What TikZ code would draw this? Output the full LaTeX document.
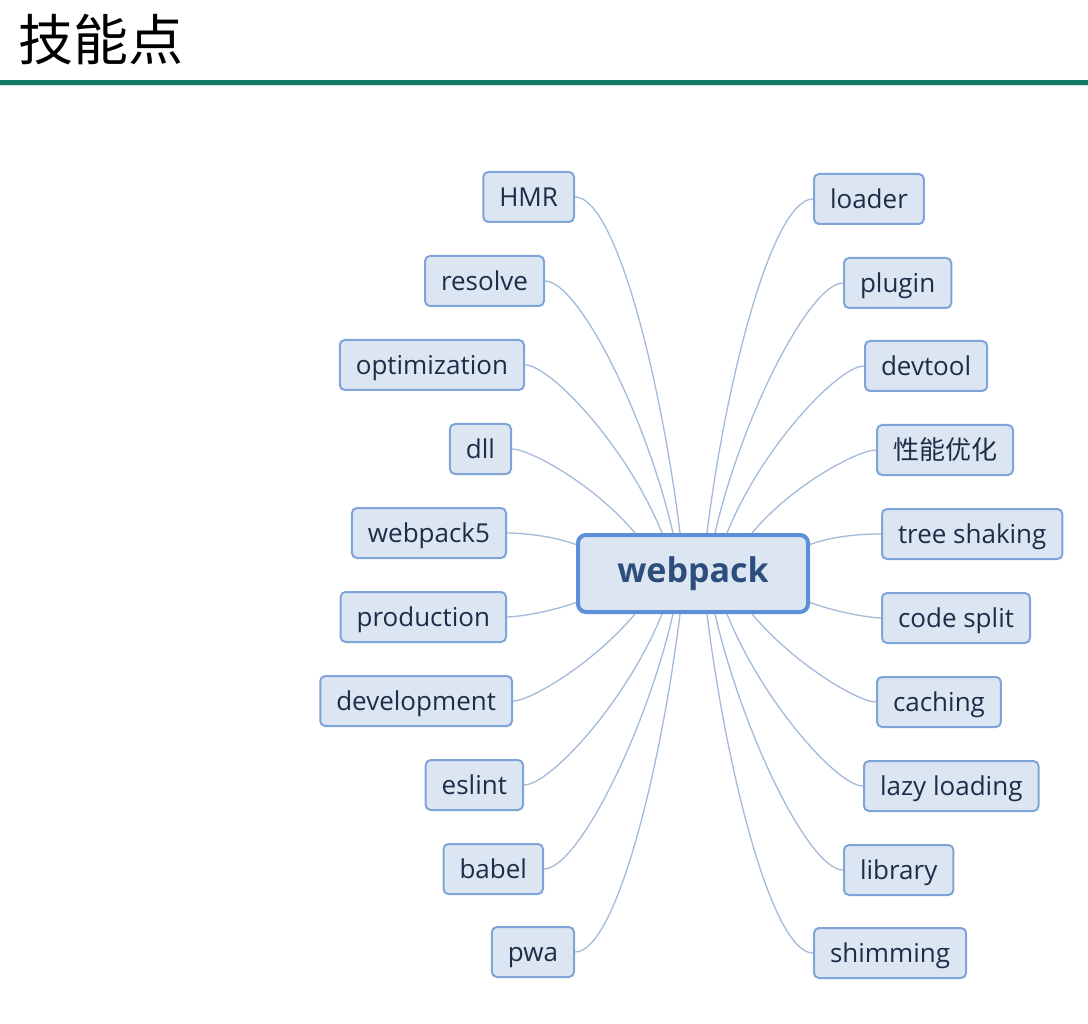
\documentclass[tikz,border=0pt]{standalone}
\usepackage{fontspec}
\setmainfont{Open Sans}
\newfontfamily\cjk{Noto Sans CJK SC}
\usepackage{xcolor}
\usetikzlibrary{positioning}

\definecolor{rulegreen}{HTML}{137A65}
\definecolor{boxfill}{HTML}{DCE6F3}
\definecolor{boxline}{HTML}{7FA5D8}
\definecolor{hubline}{HTML}{5B8FD8}
\definecolor{linkline}{HTML}{A3BAD9}
\definecolor{leaftext}{HTML}{1E2C48}
\definecolor{hubtext}{HTML}{2D4D7C}

\tikzset{
    leaf/.style = {draw = boxline, fill = boxfill, line width = 2pt, rounded corners = 5pt,
        minimum height = 50pt, inner xsep = 16pt, text height = 20pt, text depth = 1.5pt,
        text = leaftext, font = \fontsize{26}{30}\selectfont},
    hub/.style = {draw = hubline, fill = boxfill, line width = 4pt, rounded corners = 8pt,
        minimum width = 230pt, minimum height = 77pt, text = hubtext,
        font = \bfseries\fontsize{34}{40}\selectfont},
    link/.style = {draw = linkline, line width = 1.3pt, out looseness = 0.3, in looseness = 1.1}
}

\begin{document}
\begin{tikzpicture}[x = 1pt, y = -1pt]
        \useasboundingbox (0,0) rectangle (1088,1024);

        % Title
        \node[anchor = base west, inner sep = 0, font = \cjk\fontsize{55}{60}\selectfont] (title) at (18,61) {技能点};
        \draw[rulegreen, line width = 5pt] (0,82.5) -- (1088,82.5);
        \draw[black!15, line width = 1pt] (0,86) -- (1088,86);

        % Hub
        \node[hub] (wp) at (693,573.5) {webpack};

        % Left leaves
        \foreach \n/\t/\x/\y in {hmr/HMR/575/197, resolve/resolve/545/281, optim/optimization/525/365,
                dll/dll/512/449, wpfive/webpack5/507/533, prod/production/507/617,
                dev/development/513/701, eslint/eslint/524/785, babel/babel/544/869, pwa/pwa/575/952}
            \node[leaf, anchor = east] (\n) at (\x,\y) {\t};

        % Right leaves
        \foreach \n/\t/\x/\y in {loader/loader/813/199, plugin/plugin/843/283, devtool/devtool/864/366,
                perf/{\cjk 性能优化}/876/450, tree/tree shaking/881/534, split/code split/881/618,
                caching/caching/876/702, lazy/lazy loading/863/786, library/library/843/870,
                shim/shimming/813/953}
            \node[leaf, anchor = west] (\n) at (\x,\y) {\t};

        % Links above
        \foreach \n/\s/\a in {hmr/-13/97, resolve/-20/103, optim/-31/112, dll/-58/130}
            \draw[link] (\n.east) to[out = 0, in = \a] ([xshift = \s pt]wp.north);
        \foreach \n/\s/\a in {loader/14/83, plugin/22/77, devtool/34/68, perf/59/50}
            \draw[link] (\n.west) to[out = 180, in = \a] ([xshift = \s pt]wp.north);

        % Links below
        \foreach \n/\s/\a in {pwa/-13/97, babel/-20/103, eslint/-31/112, dev/-58/130}
            \draw[link] (\n.east) to[out = 0, in = -\a] ([xshift = \s pt]wp.south);
        \foreach \n/\s/\a in {shim/14/83, library/22/77, lazy/34/68, caching/59/50}
            \draw[link] (\n.west) to[out = 180, in = -\a] ([xshift = \s pt]wp.south);

        % Links at the sides
        \draw[link] (wpfive.east) to[out = 0, in = 160] ([yshift = 29pt]wp.west);
        \draw[link] (prod.east) to[out = 0, in = 200] ([yshift = -29pt]wp.west);
        \draw[link] (tree.west) to[out = 180, in = 20] ([yshift = 29pt]wp.east);
        \draw[link] (split.west) to[out = 180, in = -20] ([yshift = -29pt]wp.east);
    \end{tikzpicture}
\end{document}
